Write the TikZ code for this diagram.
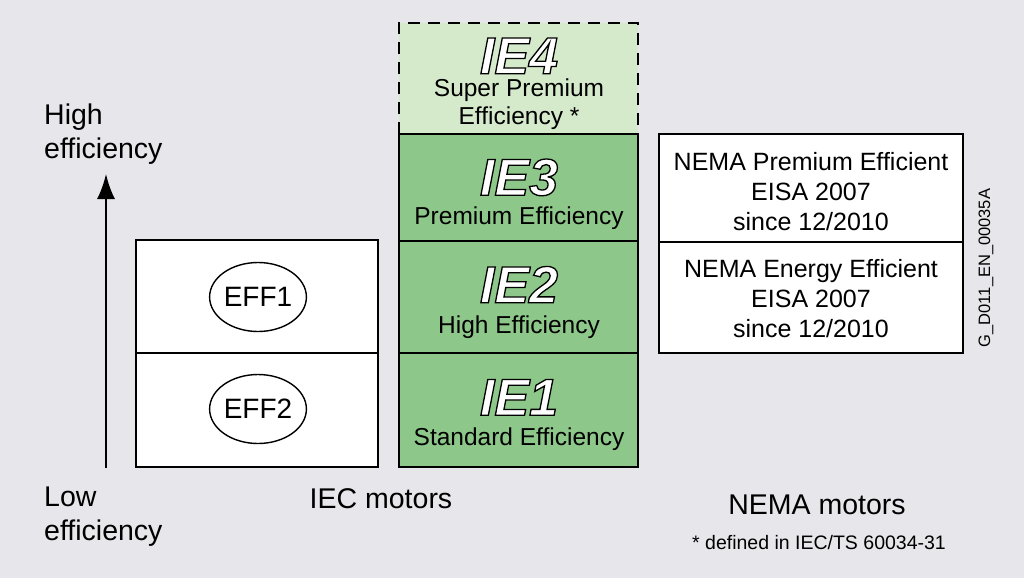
\documentclass[tikz,border=0pt]{standalone}
\usepackage{fontspec}
\setmainfont{Liberation Sans}
\usetikzlibrary{arrows.meta, shapes.geometric}
\definecolor{bgcol}{RGB}{231,231,235}
\definecolor{iegreen}{RGB}{141,199,137}
\definecolor{iepale}{RGB}{213,234,203}
\newcommand{\fsz}[2]{\fontsize{#1}{#2}\selectfont}
% italic face drawn as fill + stroke; stroke colour set to black below
\font\ieface="Liberation Sans Bold Italic:embolden=2.5" at 52pt
\newcommand{\outlinetext}[1]{{\ieface\color{white}\special{pdf:literal direct 0 0 0 RG}#1}}
\tikzset{
  box/.style={draw=black, line width=1.6pt, rectangle, inner sep=0pt},
  lbl/.style={align=center, inner sep=0pt, font=\fsz{25}{30}},
  big/.style={align=center, inner sep=0pt, font=\fsz{28.5}{34}},
  ietxt/.style={inner sep=0pt, text height=37.5pt, text depth=0pt},
  effoval/.style={draw=black, line width=1.4pt, ellipse, minimum width=96pt, minimum height=69pt, inner sep=0pt, font=\fsz{28}{34}}
}
\begin{document}
\begin{tikzpicture}[x=1pt, y=-1pt]
\fill[bgcol] (0,0) rectangle (1024,578);
\useasboundingbox (0,0) rectangle (1024,578);

% efficiency axis
\coordinate (lowpt) at (106,468);
\coordinate (highpt) at (106,174);
\draw[line width=2pt, -{Latex[length=25pt, width=18pt]}] (lowpt) -- (highpt);
\node[big, align=left, anchor=west] (hi) at (44,134) {High\\efficiency};
\node[big, align=left, anchor=west] (lo) at (44,517) {Low\\efficiency};

% old EFF classes
\node[box, fill=white, minimum width=242pt, minimum height=113pt] (eff1box) at (257,296.5) {};
\node[box, fill=white, minimum width=242pt, minimum height=114pt] (eff2box) at (257,410) {};
\node[effoval, fill=white] (eff1) at (258,297) {EFF1};
\node[effoval, fill=white] (eff2) at (258,409) {EFF2};
\node[big] (iec) at (381,499) {IEC motors};

% IE classes
\node[rectangle, fill=iepale, minimum width=239pt, minimum height=111pt, inner sep=0pt] (ie4box) at (518.5,78.5) {};
\draw[line width=1.6pt, dash pattern=on 12pt off 8pt] (399,134) -- (399,23) -- (638,23) -- (638,134);
\node[box, fill=iegreen, minimum width=239pt, minimum height=107pt] (ie3box) at (518.5,187.5) {};
\node[box, fill=iegreen, minimum width=239pt, minimum height=112pt] (ie2box) at (518.5,297) {};
\node[box, fill=iegreen, minimum width=239pt, minimum height=114pt] (ie1box) at (518.5,410) {};
\draw[line width=1.6pt] (399,134) -- (638,134);

\node[ietxt] (ie4) at (519,55) {\outlinetext{IE4}};
\node[ietxt] (ie3) at (519,176.5) {\outlinetext{IE3}};
\node[ietxt] (ie2) at (519,284) {\outlinetext{IE2}};
\node[ietxt] (ie1) at (519,396.5) {\outlinetext{IE1}};
\node[lbl, font=\fsz{24.5}{28}] (ie4t) at (519,104) {Super Premium\\Efficiency *};
\node[lbl, font=\fsz{24.5}{28}] (ie3t) at (519,218) {Premium Efficiency};
\node[lbl, font=\fsz{24.5}{28}] (ie2t) at (519,327) {High Efficiency};
\node[lbl, font=\fsz{24.5}{28}] (ie1t) at (519,439) {Standard Efficiency};

% NEMA classes
\node[box, fill=white, minimum width=304pt, minimum height=108pt] (nemap) at (811,188) {};
\node[box, fill=white, minimum width=304pt, minimum height=111pt] (nemae) at (811,297.5) {};
\node[lbl, font=\fsz{25}{30}] (nemapt) at (811,192) {NEMA Premium Efficient\\EISA 2007\\since 12/2010};
\node[lbl, font=\fsz{25}{30}] (nemaet) at (811,299) {NEMA Energy Efficient\\EISA 2007\\since 12/2010};
\node[big] (nema) at (817,505) {NEMA motors};
\node[lbl, font=\fsz{19.5}{23}] (note) at (819,543) {* defined in IEC/TS 60034-31};

% drawing number
\node[lbl, font=\fsz{16.5}{20}, rotate=90] (gno) at (986,268) {G\_D011\_EN\_00035A};
\end{tikzpicture}
\end{document}
